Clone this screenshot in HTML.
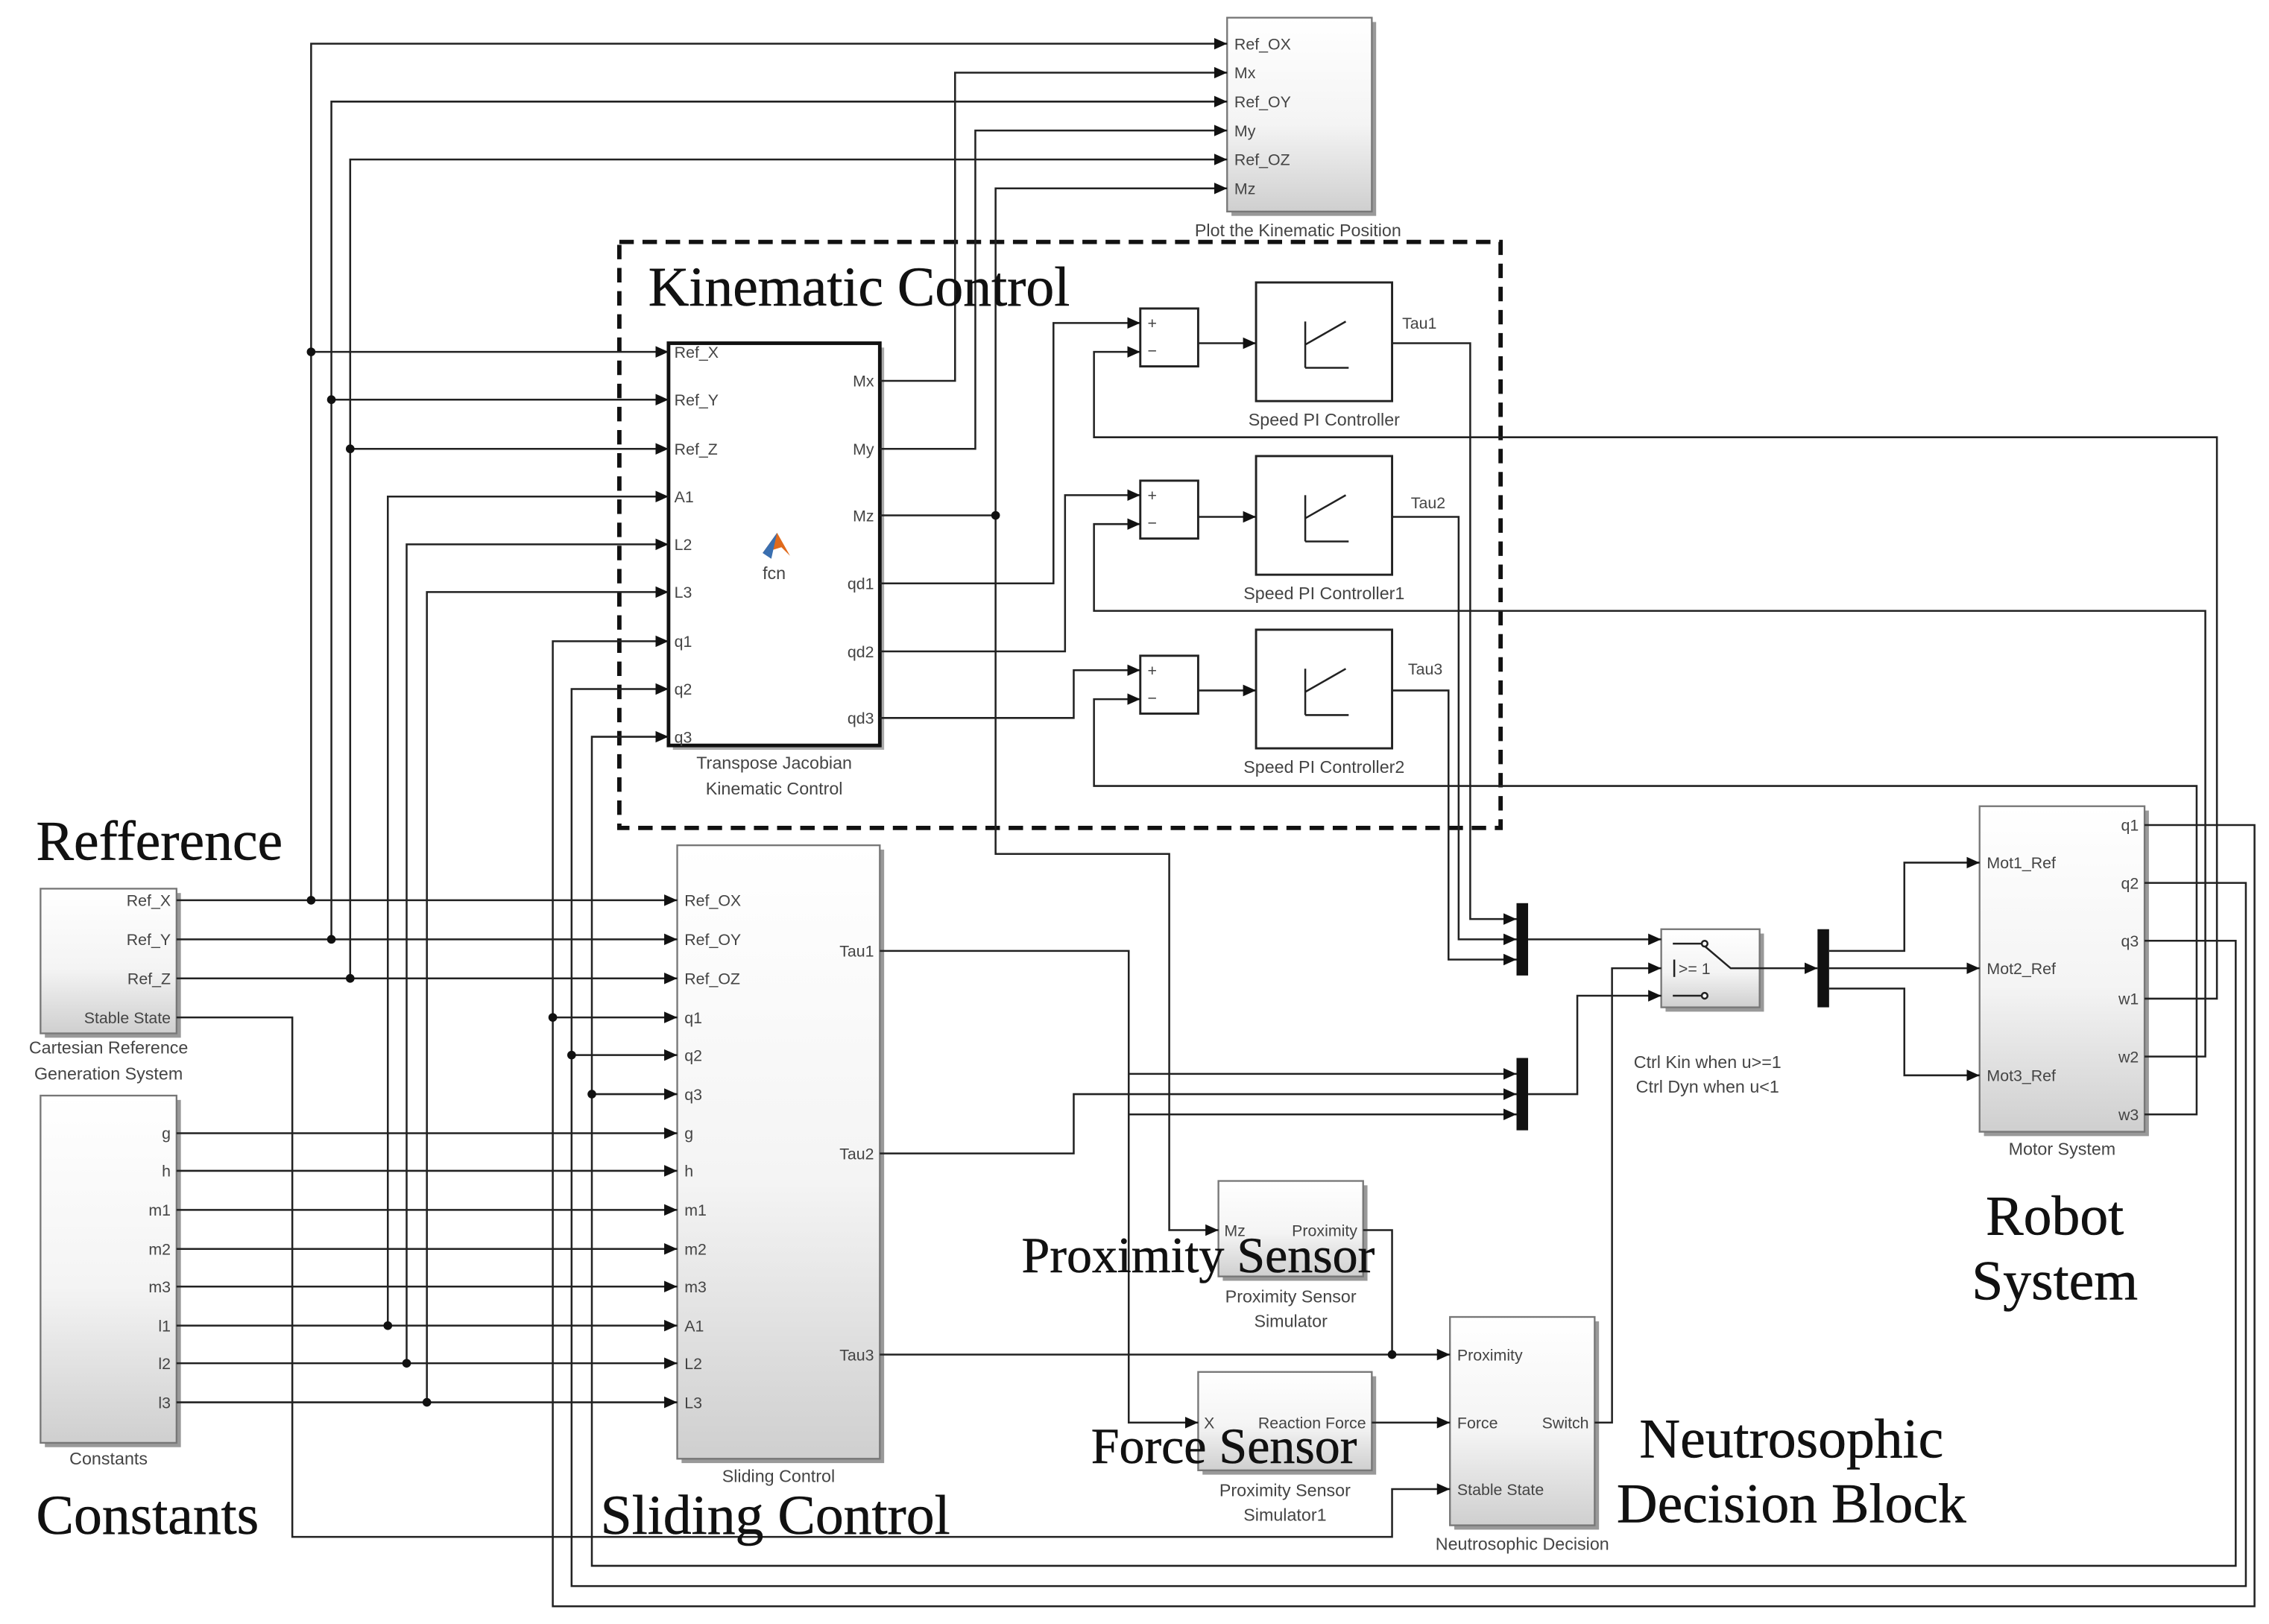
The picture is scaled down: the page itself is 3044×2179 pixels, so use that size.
<!DOCTYPE html>
<html><head><meta charset="utf-8"><style>
html,body{margin:0;padding:0;background:#fff;}
svg{display:block;}
.p{font-family:"Liberation Sans",sans-serif;font-size:11px;fill:#444;}
.c{font-family:"Liberation Sans",sans-serif;font-size:12px;fill:#444;text-anchor:middle;}
.b{font-family:"Liberation Serif",serif;font-size:39px;fill:#111;stroke:#111;stroke-width:0.3;}
.w{fill:none;stroke:#222;stroke-width:1.3;}
</style></head><body>
<svg width="3044" height="2179" viewBox="0 0 1568 1122" xmlns="http://www.w3.org/2000/svg">
<defs>
<linearGradient id="g" x1="0" y1="0" x2="0" y2="1"><stop offset="0" stop-color="#fff"/><stop offset="0.55" stop-color="#f4f4f4"/><stop offset="1" stop-color="#cfcfcf"/></linearGradient>
<marker id="a" markerWidth="10" markerHeight="10" refX="9" refY="5" orient="auto" markerUnits="userSpaceOnUse"><path d="M0,1 L9,5 L0,9 z" fill="#111"/></marker>
</defs>
<rect width="1568" height="1122" fill="#fff"/>

<g fill="#999"><rect x="851" y="15" width="100" height="134"/><rect x="31" y="617" width="94" height="100"/><rect x="31" y="760" width="94" height="240"/><rect x="471" y="587" width="140" height="424"/><rect x="1371" y="560" width="114" height="225"/><rect x="845" y="819" width="100" height="66"/><rect x="831" y="951" width="120" height="68"/><rect x="1005" y="913" width="100" height="144"/><rect x="1151" y="645" width="68" height="54"/></g>
<g fill="url(#g)" stroke="#777" stroke-width="1.2">
<rect x="848" y="12" width="100" height="134"/>
<rect x="28" y="614" width="94" height="100"/>
<rect x="28" y="757" width="94" height="240"/>
<rect x="468" y="584" width="140" height="424"/>
<rect x="1368" y="557" width="114" height="225"/>
<rect x="842" y="816" width="100" height="66"/>
<rect x="828" y="948" width="120" height="68"/>
<rect x="1002" y="910" width="100" height="144"/>
<rect x="1148" y="642" width="68" height="54"/>
</g>
<rect x="428" y="167" width="609" height="405" fill="none" stroke="#111" stroke-width="3" stroke-dasharray="10,6"/>
<rect x="465" y="240" width="146" height="278" fill="#aaa"/>
<rect x="462" y="237" width="146" height="278" fill="#fff" stroke="#111" stroke-width="2.5"/>
<g fill="#fff" stroke="#222" stroke-width="1.5">
<rect x="788" y="213" width="40" height="40"/><rect x="788" y="332" width="40" height="40"/><rect x="788" y="453" width="40" height="40"/>
<rect x="868" y="195" width="94" height="82"/><rect x="868" y="315" width="94" height="82"/><rect x="868" y="435" width="94" height="82"/>
</g>
<g class="w" stroke-width="1.5"><path d="M902,254 V222 M902,254 H932 M902,238 L930,222"/><path d="M902,374 V342 M902,374 H932 M902,358 L930,342"/><path d="M902,494 V462 M902,494 H932 M902,478 L930,462"/></g>
<g class="p" font-size="10"><text x="793" y="227">+</text><text x="793" y="246">−</text><text x="793" y="346">+</text><text x="793" y="365">−</text><text x="793" y="467">+</text><text x="793" y="486">−</text></g>
<g fill="#111"><rect x="1048" y="624" width="8" height="50"/><rect x="1048" y="731" width="8" height="50"/><rect x="1256" y="642" width="8" height="54"/></g>
<path d="M527,382 L537,368 L546,384 L540,378 Z" fill="#e06a1c"/><path d="M527,382 L537,368 L533,386 Z" fill="#3a6fb0"/>
<text class="c" x="535" y="400" font-size="12">fcn</text>

<g class="w" marker-end="url(#a)">
<path d="M122,622 H468"/><path d="M215,622 V30 H848"/><path d="M215,243 H462"/>
<path d="M122,649 H468"/><path d="M229,649 V70 H848"/><path d="M229,276 H462"/>
<path d="M122,676 H468"/><path d="M242,676 V110 H848"/><path d="M242,310 H462"/>
<path d="M122,703 H202 V1062 H962 V1029 H1002"/>
<path d="M122,783 H468"/><path d="M122,809 H468"/><path d="M122,836 H468"/><path d="M122,863 H468"/><path d="M122,889 H468"/>
<path d="M122,916 H468"/><path d="M268,916 V343 H462"/>
<path d="M122,942 H468"/><path d="M281,942 V376 H462"/>
<path d="M122,969 H468"/><path d="M295,969 V409 H462"/>
<path d="M1482,570 H1558 V1110 H382 V443 H462"/><path d="M382,703 H468"/>
<path d="M1482,610 H1552 V1096 H395 V476 H462"/><path d="M395,729 H468"/>
<path d="M1482,650 H1545 V1082 H409 V509 H462"/><path d="M409,756 H468"/>
<path d="M608,263 H660 V50 H848"/>
<path d="M608,310 H674 V90 H848"/>
<path d="M608,356 H688 V130 H848"/>
<path d="M688,356 V590 H808 V850 H842"/>
<path d="M608,403 H728 V223 H788"/>
<path d="M608,450 H736 V342 H788"/>
<path d="M608,496 H742 V463 H788"/>
<path d="M828,237 H868"/><path d="M828,357 H868"/><path d="M828,477 H868"/>
<path d="M1482,690 H1532 V302 H756 V243 H788"/>
<path d="M1482,730 H1524 V422 H756 V362 H788"/>
<path d="M1482,770 H1518 V543 H756 V483 H788"/>
<path d="M962,237 H1016 V635 H1048"/>
<path d="M962,357 H1008 V649 H1048"/>
<path d="M962,477 H1001 V663 H1048"/>
<path d="M1056,649 H1148"/>
<path d="M608,657 H780 V742 H1048"/>
<path d="M608,797 H742 V756 H1048"/>
<path d="M780,770 H1048"/>
<path d="M780,742 V983 H828"/>
<path d="M608,936 H1002"/>
<path d="M948,983 H1002"/>
<path d="M1056,756 H1090 V688 H1148"/>
<path d="M1102,983 H1114 V669 H1148"/>
<path d="M1216,669 H1256"/>
<path d="M1264,657 H1316 V596 H1368"/>
<path d="M1264,669 H1368"/>
<path d="M1264,683 H1316 V743 H1368"/>
</g>
<path class="w" d="M942,850 H962 V936"/>
<g class="w" stroke-width="1.2"><path d="M1156,652 H1176 L1196,669 H1216 M1156,688 H1176"/><circle cx="1178" cy="652" r="2" fill="#fff"/><circle cx="1178" cy="688" r="2" fill="#fff"/><path d="M1157,663 V675"/></g>
<text class="p" x="1160" y="673">&gt;= 1</text>
<g fill="#111"><circle cx="215" cy="622" r="3"/><circle cx="215" cy="243" r="3"/><circle cx="229" cy="649" r="3"/><circle cx="229" cy="276" r="3"/><circle cx="242" cy="676" r="3"/><circle cx="242" cy="310" r="3"/><circle cx="268" cy="916" r="3"/><circle cx="281" cy="942" r="3"/><circle cx="295" cy="969" r="3"/><circle cx="382" cy="703" r="3"/><circle cx="395" cy="729" r="3"/><circle cx="409" cy="756" r="3"/><circle cx="688" cy="356" r="3"/><circle cx="962" cy="936" r="3"/></g>

<g class="p">
<text x="853" y="34">Ref_OX</text><text x="853" y="54">Mx</text><text x="853" y="74">Ref_OY</text><text x="853" y="94">My</text><text x="853" y="114">Ref_OZ</text><text x="853" y="134">Mz</text>
<text x="466" y="247">Ref_X</text><text x="466" y="280">Ref_Y</text><text x="466" y="314">Ref_Z</text><text x="466" y="347">A1</text><text x="466" y="380">L2</text><text x="466" y="413">L3</text><text x="466" y="447">q1</text><text x="466" y="480">q2</text><text x="466" y="513">q3</text>
<text x="473" y="626">Ref_OX</text><text x="473" y="653">Ref_OY</text><text x="473" y="680">Ref_OZ</text><text x="473" y="707">q1</text><text x="473" y="733">q2</text><text x="473" y="760">q3</text><text x="473" y="787">g</text><text x="473" y="813">h</text><text x="473" y="840">m1</text><text x="473" y="867">m2</text><text x="473" y="893">m3</text><text x="473" y="920">A1</text><text x="473" y="946">L2</text><text x="473" y="973">L3</text>
<text x="1373" y="600">Mot1_Ref</text><text x="1373" y="673">Mot2_Ref</text><text x="1373" y="747">Mot3_Ref</text>
<text x="846" y="854">Mz</text><text x="832" y="987">X</text>
<text x="1007" y="940">Proximity</text><text x="1007" y="987">Force</text><text x="1007" y="1033">Stable State</text>
</g>
<g class="p" text-anchor="end">
<text x="604" y="267">Mx</text><text x="604" y="314">My</text><text x="604" y="360">Mz</text><text x="604" y="407">qd1</text><text x="604" y="454">qd2</text><text x="604" y="500">qd3</text>
<text x="604" y="661">Tau1</text><text x="604" y="801">Tau2</text><text x="604" y="940">Tau3</text>
<text x="118" y="626">Ref_X</text><text x="118" y="653">Ref_Y</text><text x="118" y="680">Ref_Z</text><text x="118" y="707">Stable State</text>
<text x="118" y="787">g</text><text x="118" y="813">h</text><text x="118" y="840">m1</text><text x="118" y="867">m2</text><text x="118" y="893">m3</text><text x="118" y="920">l1</text><text x="118" y="946">l2</text><text x="118" y="973">l3</text>
<text x="1478" y="574">q1</text><text x="1478" y="614">q2</text><text x="1478" y="654">q3</text><text x="1478" y="694">w1</text><text x="1478" y="734">w2</text><text x="1478" y="774">w3</text>
<text x="938" y="854">Proximity</text><text x="944" y="987">Reaction Force</text><text x="1098" y="987">Switch</text>
</g>
<g class="p" font-size="12"><text x="969" y="227">Tau1</text><text x="975" y="351">Tau2</text><text x="973" y="466">Tau3</text></g>
<g class="c">
<text x="897" y="163">Plot the Kinematic Position</text>
<text x="915" y="294">Speed PI Controller</text><text x="915" y="414">Speed PI Controller1</text><text x="915" y="534">Speed PI Controller2</text>
<text x="535" y="531">Transpose Jacobian</text><text x="535" y="549">Kinematic Control</text>
<text x="75" y="728">Cartesian Reference</text><text x="75" y="746">Generation System</text>
<text x="75" y="1012">Constants</text>
<text x="538" y="1024">Sliding Control</text>
<text x="1180" y="738">Ctrl Kin when u&gt;=1</text><text x="1180" y="755">Ctrl Dyn when u&lt;1</text>
<text x="1425" y="798">Motor System</text>
<text x="892" y="900">Proximity Sensor</text><text x="892" y="917">Simulator</text>
<text x="888" y="1034">Proximity Sensor</text><text x="888" y="1051">Simulator1</text>
<text x="1052" y="1071">Neutrosophic Decision</text>
</g>
<g class="b">
<text x="448" y="211">Kinematic Control</text>
<text x="25" y="594">Refference</text>
<text x="25" y="1060">Constants</text>
<text x="415" y="1060">Sliding Control</text>
<text x="706" y="879" font-size="35">Proximity Sensor</text>
<text x="754" y="1011" font-size="35">Force Sensor</text>
<text x="1420" y="853" text-anchor="middle">Robot</text>
<text x="1420" y="898" text-anchor="middle">System</text>
<text x="1238" y="1007" text-anchor="middle">Neutrosophic</text>
<text x="1238" y="1052" text-anchor="middle">Decision Block</text>
</g>
</svg>
</body></html>
